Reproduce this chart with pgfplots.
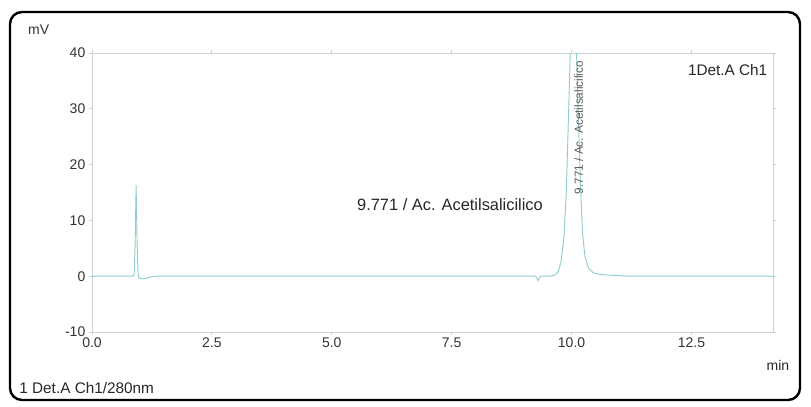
\documentclass[border=0pt]{standalone}
\usepackage{fontspec}
\setmainfont{Liberation Sans}
\usepackage{pgfplots}
\pgfplotsset{compat=1.18}
\definecolor{trace}{RGB}{145,205,205}
\definecolor{axgray}{RGB}{200,210,216}
\begin{document}
\begin{tikzpicture}
\useasboundingbox (0,0) rectangle (608.25pt,305.25pt);
\draw[line width=1.8pt, rounded corners=9pt] (7.5pt,5.25pt) rectangle (600pt,296.25pt);
\begin{axis}[at={(69pt,56.25pt)}, anchor=south west, scale only axis,
  width=510.75pt, height=209.25pt,
  xmin=0, xmax=14.2, ymin=-10, ymax=40,
  xtick={0,2.5,5,7.5,10,12.5}, ytick={-10,0,10,20,30,40},
  xticklabel style={yshift=1.5pt, /pgf/number format/fixed, /pgf/number format/fixed zerofill, /pgf/number format/precision=1},
  yticklabel style={xshift=1pt},
  /pgf/number format/assume math mode=true,
  axis line style={axgray, line width=0.6pt},
  tick style={axgray, line width=0.6pt},
  tick align=outside, major tick length=2.5pt,
  ticklabel style={font=\fontsize{10.5}{12}\selectfont, text=black!80},
]
\addplot[trace, line width=0.7pt] coordinates {
(0,0) (0.85,0) (0.88,0.3) (0.90,6) (0.92,16.3) (0.94,6) (0.96,0.5) (0.98,-0.3)
(1.05,-0.5) (1.15,-0.3) (1.3,0) (9.25,0) (9.3,-0.8) (9.35,0) (9.55,0)
(9.65,0.2) (9.72,0.8) (9.78,2.5) (9.84,7) (9.89,15) (9.93,27) (9.96,36)
(10.0,50) (10.03,56) (10.07,50) (10.11,38) (10.15,26) (10.19,15) (10.23,7.5)
(10.28,3.5) (10.35,1.5) (10.45,0.6) (10.6,0.3) (10.8,0.2) (11.0,0.1)
(11.2,0) (14.2,0)
};
\end{axis}
\node[anchor=center, font=\fontsize{10.5}{12}\selectfont, text=black!80] at (29pt,282.75pt) {mV};
\node[anchor=east, font=\fontsize{11.5}{13}\selectfont, text=black!85] at (579pt,252.75pt) {1Det.A Ch1};
\node[anchor=center, font=\fontsize{10.5}{12}\selectfont, text=black!85] at (583.5pt,31.5pt) {min};
\node[anchor=west, font=\fontsize{11.5}{13}\selectfont, text=black!85] at (11pt,14.25pt) {1 Det.A Ch1/280nm};
\node[anchor=center, font=\fontsize{12.3}{14}\selectfont, text=black!85] at (337.5pt,151.5pt) {9.771 / Ac. Acetilsalicilico};
\node[anchor=center, rotate=90, font=\fontsize{8.8}{10}\selectfont, text=black!65] at (434pt,209.5pt) {9.771 / Ac. Acetilsalicilico};
\end{tikzpicture}
\end{document}
